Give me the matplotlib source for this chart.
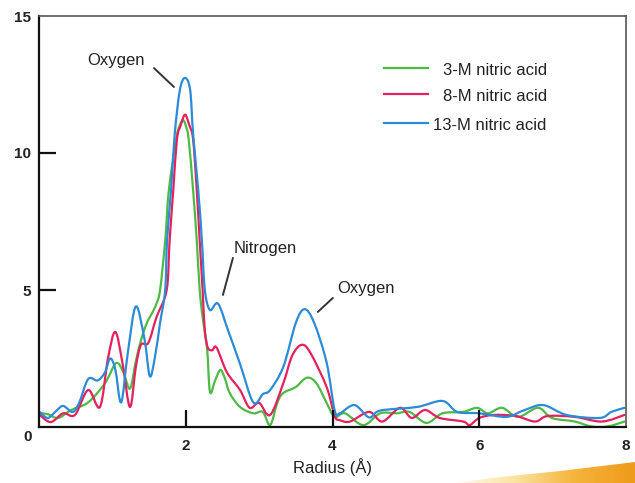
import numpy as np
import matplotlib
matplotlib.use("Agg")
import matplotlib.pyplot as plt
from matplotlib.lines import Line2D
from matplotlib.patches import Polygon, PathPatch
from matplotlib.path import Path

plt.rcParams["font.family"] = ["Liberation Sans", "DejaVu Sans"]

# radius (Å) / magnitude
x_3m = [0.01, 0.12, 0.26, 0.44, 0.67, 0.90, 1.05, 1.15, 1.24, 1.32, 1.39, 1.47, 1.55,
        1.60, 1.65, 1.72, 1.77, 1.87, 1.91, 1.96, 2.00, 2.04, 2.10, 2.15, 2.19, 2.23,
        2.29, 2.33, 2.40, 2.47, 2.53, 2.60, 2.74, 2.92, 3.05, 3.15, 3.25, 3.33, 3.50,
        3.65, 3.78, 3.92, 4.03, 4.17, 4.42, 4.65, 4.88, 5.05, 5.28, 5.50, 5.78, 5.97,
        6.12, 6.31, 6.53, 6.80, 6.99, 7.30, 7.53, 7.75, 7.98]
y_3m = [0.50, 0.47, 0.33, 0.62, 0.90, 1.60, 2.33, 2.00, 1.40, 2.40, 3.17, 3.80, 4.20,
        4.50, 5.00, 6.80, 8.65, 10.50, 10.95, 11.20, 11.00, 10.50, 8.65, 6.80, 5.00, 4.00,
        2.90, 1.28, 1.70, 2.08, 1.80, 1.24, 0.73, 0.50, 0.55, 0.07, 0.90, 1.24, 1.46,
        1.80, 1.60, 0.88, 0.37, 0.50, 0.07, 0.50, 0.50, 0.55, 0.15, 0.50, 0.55, 0.70,
        0.50, 0.70, 0.37, 0.70, 0.33, 0.20, 0.02, 0.02, 0.20]

x_8m = [0.01, 0.16, 0.33, 0.49, 0.67, 0.83, 0.94, 1.04, 1.14, 1.24, 1.32, 1.39, 1.49,
        1.60, 1.74, 1.78, 1.83, 1.88, 1.93, 1.99, 2.05, 2.10, 2.15, 2.19, 2.23, 2.26,
        2.30, 2.36, 2.42, 2.56, 2.74, 2.87, 3.00, 3.15, 3.33, 3.45, 3.58, 3.70, 3.92,
        4.03, 4.10, 4.24, 4.50, 4.68, 4.92, 5.08, 5.26, 5.46, 5.78, 5.87, 6.00, 6.20,
        6.50, 6.76, 6.93, 7.30, 7.67, 7.98]
y_8m = [0.44, 0.18, 0.50, 0.44, 1.35, 0.73, 2.50, 3.47, 2.30, 0.73, 2.20, 3.00, 3.07,
        4.00, 5.00, 6.80, 8.65, 10.50, 11.00, 11.40, 11.00, 10.50, 8.65, 6.80, 5.00, 3.50,
        2.90, 2.80, 2.90, 2.00, 1.35, 0.70, 0.88, 0.44, 1.60, 2.60, 3.00, 2.70, 1.46,
        0.40, 0.25, 0.20, 0.55, 0.20, 0.70, 0.33, 0.62, 0.33, 0.20, 0.07, 0.33, 0.44,
        0.40, 0.20, 0.40, 0.37, 0.20, 0.44]

x_13m = [0.01, 0.12, 0.24, 0.33, 0.46, 0.55, 0.67, 0.80, 0.90, 0.97, 1.04, 1.12, 1.21,
         1.32, 1.44, 1.51, 1.58, 1.65, 1.72, 1.745, 1.80, 1.85, 1.92, 1.99, 2.06, 2.10,
         2.17, 2.22, 2.26, 2.33, 2.44, 2.58, 2.74, 2.92, 3.05, 3.15, 3.33, 3.50, 3.62,
         3.75, 3.92, 4.03, 4.10, 4.30, 4.50, 4.65, 5.15, 5.50, 5.70, 6.00, 6.37, 6.60,
         6.87, 7.19, 7.64, 7.80, 7.98]
y_13m = [0.55, 0.33, 0.60, 0.77, 0.55, 0.90, 1.75, 1.70, 2.00, 2.50, 2.10, 0.90, 2.70,
         4.40, 3.17, 1.85, 2.55, 3.80, 5.00, 6.80, 8.65, 10.70, 12.30, 12.74, 12.30, 10.70,
         8.65, 6.80, 5.00, 4.27, 4.50, 3.50, 2.30, 0.90, 1.20, 1.35, 2.20, 3.80, 4.30,
         3.80, 2.35, 0.60, 0.50, 0.80, 0.35, 0.60, 0.73, 0.95, 0.55, 0.50, 0.37, 0.60,
         0.80, 0.44, 0.33, 0.55, 0.70]

series = [
    ("3-M nitric acid", x_3m, y_3m, "#4dba45"),
    ("8-M nitric acid", x_8m, y_8m, "#e5205c"),
    ("13-M nitric acid", x_13m, y_13m, "#2c8bd6"),
]


def smooth_path(xs, ys):
    # Catmull-Rom through the read points, drawn as cubic Bezier segments
    p = np.column_stack([xs, ys])
    ext = np.vstack([p[0], p, p[-1]])
    verts = [p[0]]
    codes = [Path.MOVETO]
    for i in range(1, len(ext) - 2):
        c1 = ext[i] + (ext[i + 1] - ext[i - 1]) / 6.0
        c2 = ext[i + 1] - (ext[i + 2] - ext[i]) / 6.0
        verts += [c1, c2, ext[i + 1]]
        codes += [Path.CURVE4] * 3
    return Path(verts, codes)


fig = plt.figure(figsize=(6.35, 4.83), dpi=100)
ax = fig.add_axes([39 / 635, 56 / 483, 587 / 635, 411 / 483])

for label, xs, ys, col in series:
    ax.add_patch(PathPatch(smooth_path(xs, ys), facecolor="none", edgecolor=col,
                           lw=1.6, joinstyle="round", capstyle="round"))

ax.set_xlim(0, 8)
ax.set_ylim(0, 15)

for side in ["left", "bottom"]:
    ax.spines[side].set_linewidth(1.6)
    ax.spines[side].set_color("#111111")
for side in ["top", "right"]:
    ax.spines[side].set_linewidth(1.2)
    ax.spines[side].set_color("#555555")

ax.set_xticks([2, 4, 6, 8])
ax.set_xticklabels(["2", "4", "6", "8"])
ax.set_yticks([5, 10, 15])
ax.set_yticklabels(["5", "10", "15"])
ax.tick_params(direction="in", length=12, width=1.6, color="#111111",
               labelsize=11, labelcolor="#222222")
ax.tick_params(axis="x", pad=9)
ax.tick_params(axis="y", pad=6)
ax.xaxis.get_major_ticks()[-1].tick1line.set_visible(False)
ax.yaxis.get_major_ticks()[-1].tick1line.set_visible(False)
for t in ax.get_xticklabels() + ax.get_yticklabels():
    t.set_fontweight("bold")
ax.text(-0.16, -0.37, "0", fontsize=11, fontweight="bold", color="#222222",
        ha="center", va="center", clip_on=False)

ax.set_xlabel("Radius (Å)", fontsize=12, color="#222222", labelpad=3)

# manual legend, labels right aligned
leg_y = [0.873, 0.810, 0.740]
for (label, xs, ys, col), yy in zip(series, leg_y):
    ax.add_line(Line2D([0.588, 0.663], [yy, yy], transform=ax.transAxes,
                       color=col, lw=1.6))
    ax.text(0.865, yy - 0.006, label, transform=ax.transAxes, ha="right",
            va="center", fontsize=12, color="#222222")

# peak labels with leader lines
notes = [("Oxygen", (1.05, 13.39), (1.567, 13.10), (1.839, 12.41)),
         ("Nitrogen", (3.09, 6.53), (2.643, 6.17), (2.507, 4.82)),
         ("Oxygen", (4.455, 5.07), (4.005, 4.71), (3.80, 4.20))]
for txt, tpos, p0, p1 in notes:
    ax.text(tpos[0], tpos[1], txt, ha="center", va="center", fontsize=12,
            color="#222222")
    ax.annotate("", xy=p1, xytext=p0,
                arrowprops=dict(arrowstyle="-", color="#333333", lw=1.4,
                                shrinkA=0, shrinkB=0))

# orange swoosh in the bottom right corner
bg = fig.add_axes([0, 0, 1, 1], zorder=-1)
bg.set_xlim(0, 635)
bg.set_ylim(483, 0)
bg.axis("off")
grad = np.linspace(0, 1, 256).reshape(1, -1)
cmap = matplotlib.colors.LinearSegmentedColormap.from_list(
    "sw", ["#fffaf0", "#fbe3a0", "#f5b43a", "#ef9a1a"])
im = bg.imshow(grad, extent=[455, 635, 483, 460], cmap=cmap, aspect="auto")
sx = np.array([455, 500, 560, 635, 635])
sy = np.array([483, 477, 471, 462, 483])
clip = Polygon(np.column_stack([sx, sy]), closed=True, transform=bg.transData,
               facecolor="none", edgecolor="none")
bg.add_patch(clip)
im.set_clip_path(clip)

fig.savefig("out.png", dpi=100)
